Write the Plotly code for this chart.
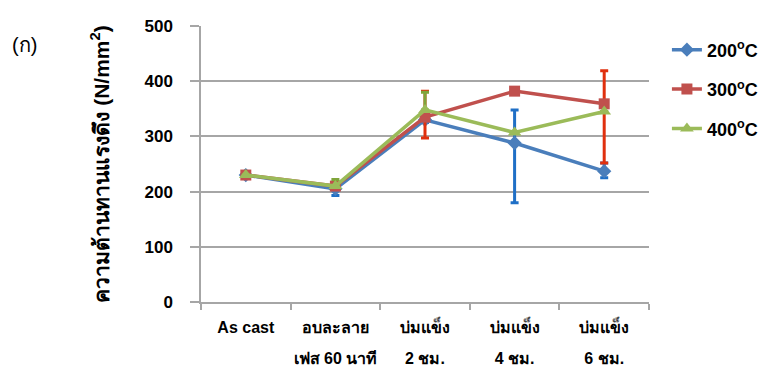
import plotly.graph_objects as go

categories = ["As cast", "อบละลาย<br>เฟส 60 นาที", "บ่มแข็ง<br>2 ชม.", "บ่มแข็ง<br>4 ชม.", "บ่มแข็ง<br>6 ชม."]
series_names = ["200<sup>o</sup>C", "300<sup>o</sup>C", "400<sup>o</sup>C"]

val_200 = [230, 205, 330, 288, 237]
err_200_plus = [0, 0, 0, 60, 15]
err_200_minus = [0, 12, 5, 108, 12]

val_300 = [230, 210, 335, 382, 359]
err_300_plus = [0, 0, 47, 0, 60]
err_300_minus = [0, 0, 38, 0, 107]

val_400 = [230, 210, 348, 307, 345]
err_400_plus = [0, 12, 32, 0, 0]
err_400_minus = [0, 0, 0, 0, 0]

y_ticks = [0, 100, 200, 300, 400, 500]

FONT = "Arial, 'Liberation Sans', 'Noto Sans', sans-serif"


def styled_label(lbl):
    # wrap each line in a smaller span so the line spacing follows the larger tick font
    return "<br>".join(f"<span style='font-size:16px'>{p}</span>" for p in lbl.split("<br>"))


tick_text = [styled_label(c) for c in categories]

fig = go.Figure()

specs = [
    (series_names[0], val_200, err_200_plus, err_200_minus, "#4A7EBB", "#1F6FC6", "diamond", 11),
    (series_names[1], val_300, err_300_plus, err_300_minus, "#C0504D", "#E0300E", "square", 11),
    (series_names[2], val_400, err_400_plus, err_400_minus, "#9BBB59", "#7FA53A", "triangle-up", 12),
]

for i, (name, vals, ep, em, col, ecol, sym, ms) in enumerate(specs):
    fig.add_trace(go.Scatter(
        x=categories, y=vals, name=name, mode="lines+markers",
        line=dict(color=col, width=3.5),
        marker=dict(symbol=sym, size=ms, color=col),
        error_y=dict(type="data", symmetric=False, array=ep, arrayminus=em,
                     color=ecol, thickness=3, width=4),
        legendgroup=f"g{i}",
    ))

fig.update_layout(
    width=779, height=367,
    margin=dict(l=193, r=138, t=18, b=73, autoexpand=False),
    paper_bgcolor="white", plot_bgcolor="white",
    font=dict(family=FONT, color="black"),
    showlegend=True,
    legend=dict(x=1.04, y=0.98, xanchor="left", yanchor="top",
                font=dict(size=18, family=FONT, color="black", weight="bold"),
                tracegroupgap=13, bgcolor="rgba(0,0,0,0)"),
    annotations=[dict(text="(ก)", xref="paper", yref="paper", x=-0.393, y=0.931,
                      xanchor="center", yanchor="middle", showarrow=False,
                      font=dict(size=20, family=FONT, color="black"))],
)

fig.update_yaxes(
    range=[0, 500], tickvals=y_ticks, ticktext=[str(v) for v in y_ticks],
    showgrid=True, gridcolor="#A6A6A6", gridwidth=1.5,
    showline=True, linecolor="#A6A6A6", linewidth=1.5,
    ticks="outside", ticklen=9, tickcolor="#A6A6A6", tickwidth=1.5,
    ticklabelstandoff=14,
    tickfont=dict(size=17, family=FONT, color="black", weight="bold"),
    zeroline=False,
    title=dict(text="ความต้านทานแรงดึง (N/mm<sup>2</sup>)", standoff=29,
               font=dict(size=21, family=FONT, color="black", weight="bold")),
)

fig.update_xaxes(
    type="category", tickson="boundaries",
    categoryarray=categories, categoryorder="array",
    tickvals=categories, ticktext=tick_text, tickangle=0,
    showgrid=False, showline=True, linecolor="#A6A6A6", linewidth=1.5,
    ticks="outside", ticklen=6, tickcolor="#A6A6A6", tickwidth=1.5,
    ticklabelstandoff=0,
    tickfont=dict(size=24, family=FONT, color="black", weight="bold"),
    range=[-0.5, 4.5],
)

fig.write_html("out.html")
